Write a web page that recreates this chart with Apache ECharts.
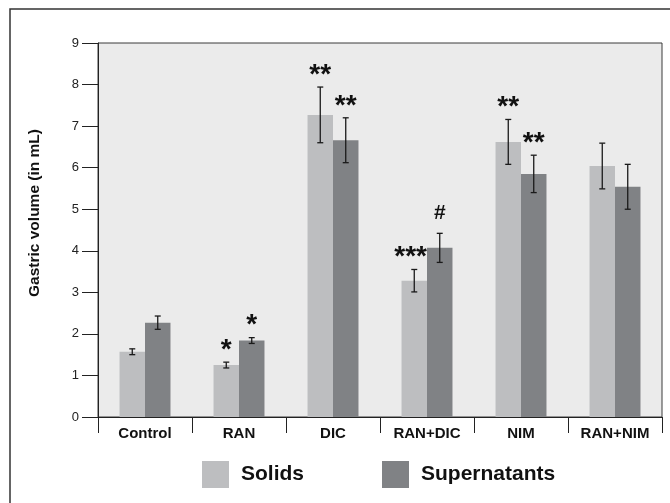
<!DOCTYPE html>
<html>
<head>
<meta charset="utf-8">
<script src="https://cdn.jsdelivr.net/npm/echarts@6/dist/echarts.min.js"></script>
<style>
  html, body { margin: 0; padding: 0; background: #ffffff; }
  #chart { width: 670px; height: 503px; }
</style>
</head>
<body>
<div id="chart"></div>
<script>
// Treatment groups
const categories = ['Control', 'RAN', 'DIC', 'RAN+DIC', 'NIM', 'RAN+NIM'];

// Gastric volume (mL), mean and SEM
const solids = [1.57, 1.25, 7.27, 3.28, 6.62, 6.04];
const solidsErr = [0.07, 0.07, 0.67, 0.27, 0.54, 0.55];
const supernatants = [2.27, 1.84, 6.66, 4.07, 5.85, 5.54];
const supernatantsErr = [0.16, 0.07, 0.54, 0.35, 0.45, 0.54];

// Significance markers drawn above each error bar
const solidsMarks = ['', '*', '**', '***', '**', ''];
const supernatantsMarks = ['', '*', '**', '#', '**', ''];

// Y axis ticks
const yTicks = [0, 1, 2, 3, 4, 5, 6, 7, 8, 9];

const FONT = "'Liberation Sans', Arial, Helvetica, sans-serif";
const BAR_FRAC = 0.271;
const COLOR_SOLIDS = '#bdbec0';
const COLOR_SUPER = '#808285';

function errorBars(values, errs, marks, side) {
  return function (params, api) {
    const i = api.value(0);
    const band = api.size([1, 0])[0];
    const bw = band * BAR_FRAC;
    const base = api.coord([i, values[i]]);
    const x = base[0] + side * bw / 2;
    const hi = api.coord([i, values[i] + errs[i]])[1];
    const lo = api.coord([i, values[i] - errs[i]])[1];
    const cap = 3;
    const lineStyle = { stroke: '#1a1a1a', lineWidth: 1.3 };
    const children = [
      { type: 'line', shape: { x1: x, y1: hi, x2: x, y2: lo }, style: lineStyle },
      { type: 'line', shape: { x1: x - cap, y1: hi, x2: x + cap, y2: hi }, style: lineStyle },
      { type: 'line', shape: { x1: x - cap, y1: lo, x2: x + cap, y2: lo }, style: lineStyle }
    ];
    const mark = marks[i];
    if (mark) {
      const isHash = mark === '#';
      // a marker wider than its bar is set flush with the bar's right edge
      const wide = mark.length > 2;
      children.push({
        type: 'text',
        style: {
          text: mark,
          x: wide ? x + bw / 2 : x,
          y: hi - (isHash ? 20 : 12),
          align: wide ? 'right' : 'center',
          verticalAlign: 'middle',
          fontFamily: FONT,
          fontWeight: 'bold',
          fontSize: isHash ? 21 : 28,
          fill: '#111111'
        }
      });
    }
    return { type: 'group', children: children };
  };
}

const chart = echarts.init(document.getElementById('chart'), null, { renderer: 'canvas' });

chart.setOption({
  animation: false,
  backgroundColor: '#ffffff',
  textStyle: { fontFamily: FONT },
  graphic: [{
    type: 'rect',
    shape: { x: 10, y: 9, width: 700, height: 600 },
    style: { fill: 'none', stroke: '#333333', lineWidth: 1.5 },
    silent: true,
    z: -10
  }],
  grid: {
    left: 98, top: 43, right: 8, bottom: 86,
    show: true,
    backgroundColor: '#ebebeb',
    borderColor: '#3a3a3a',
    borderWidth: 1
  },
  legend: {
    data: ['Solids', 'Supernatants'],
    left: 202,
    top: 461,
    padding: 0,
    icon: 'rect',
    itemWidth: 27,
    itemHeight: 27,
    itemGap: 78,
    textStyle: {
      fontFamily: FONT,
      fontWeight: 'bold',
      fontSize: 21,
      color: '#111111',
      padding: [0, 0, 0, 7]
    }
  },
  xAxis: {
    type: 'category',
    data: categories,
    boundaryGap: true,
    axisLine: { lineStyle: { color: '#222222', width: 1 } },
    axisTick: { show: true, length: 16, lineStyle: { color: '#222222' } },
    axisLabel: {
      margin: 9,
      fontFamily: FONT,
      fontWeight: 'bold',
      fontSize: 15,
      color: '#111111'
    }
  },
  yAxis: {
    type: 'value',
    min: yTicks[0],
    max: yTicks[yTicks.length - 1],
    interval: 1,
    name: 'Gastric volume (in mL)',
    nameLocation: 'middle',
    nameGap: 55,
    nameTextStyle: {
      fontFamily: FONT,
      fontWeight: 'bold',
      fontSize: 15.5,
      color: '#111111',
      padding: [0, 0, 0, 34]
    },
    axisLine: { show: true, lineStyle: { color: '#222222', width: 1 } },
    axisTick: { show: true, length: 16, lineStyle: { color: '#222222' } },
    axisLabel: { margin: 19, fontFamily: FONT, fontSize: 13, color: '#222222' },
    splitLine: { show: false }
  },
  series: [
    {
      name: 'Solids',
      type: 'bar',
      data: solids,
      barWidth: (BAR_FRAC * 100) + '%',
      barGap: '0%',
      itemStyle: { color: COLOR_SOLIDS }
    },
    {
      name: 'Supernatants',
      type: 'bar',
      data: supernatants,
      barWidth: (BAR_FRAC * 100) + '%',
      barGap: '0%',
      itemStyle: { color: COLOR_SUPER }
    },
    {
      type: 'custom',
      renderItem: errorBars(solids, solidsErr, solidsMarks, -1),
      data: solids.map((v, i) => [i, v]),
      z: 5,
      silent: true
    },
    {
      type: 'custom',
      renderItem: errorBars(supernatants, supernatantsErr, supernatantsMarks, 1),
      data: supernatants.map((v, i) => [i, v]),
      z: 5,
      silent: true
    }
  ]
});
</script>
</body>
</html>
